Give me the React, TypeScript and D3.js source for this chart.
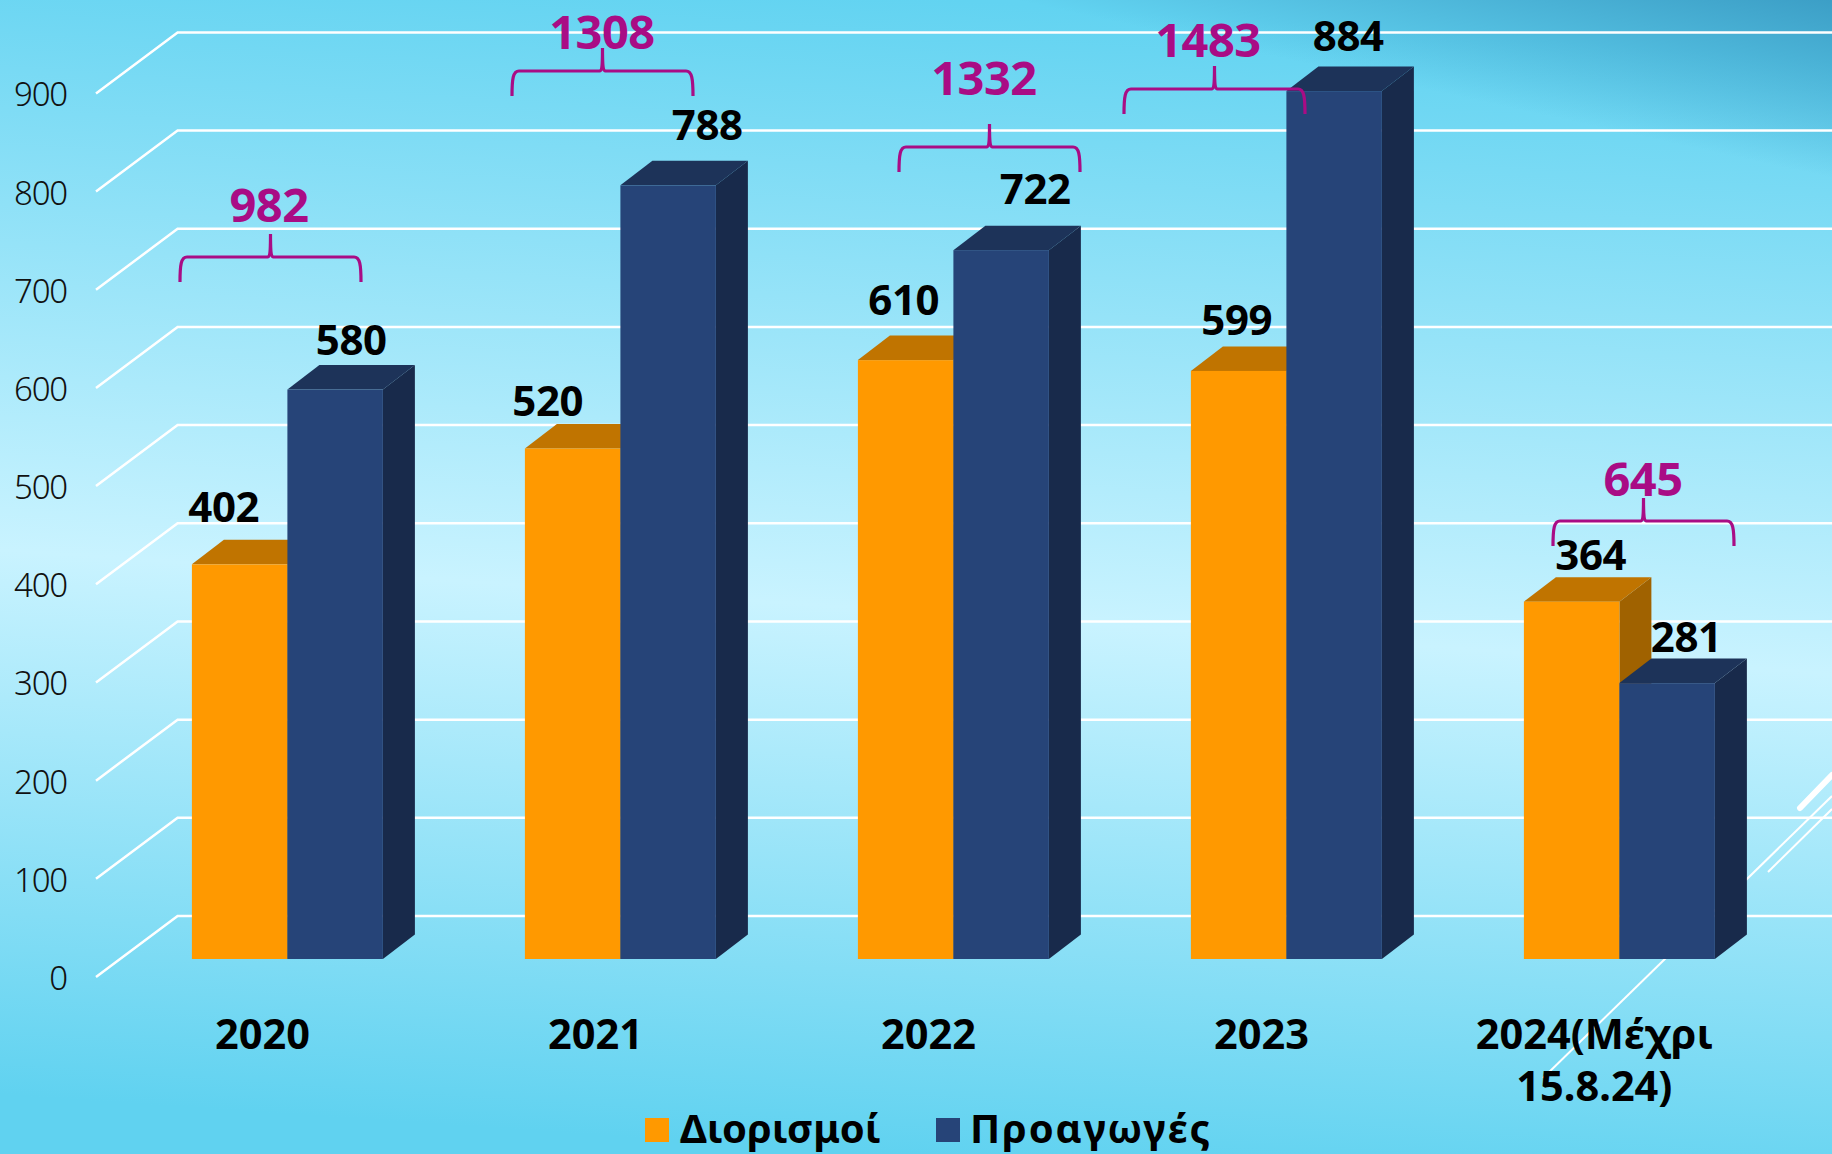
import React from "react";
import * as d3 from "d3";

const W = 1832, H = 1154;
const categories = ["2020", "2021", "2022", "2023", "2024"];
const categoryLines = [["2020"], ["2021"], ["2022"], ["2023"], ["2024(Μέχρι", "15.8.24)"]];
const seriesNames = ["Διορισμοί", "Προαγωγές"];
const diorismoi = [402, 520, 610, 599, 364];
const proagoges = [580, 788, 722, 884, 281];
const totals = [982, 1308, 1332, 1483, 645];
const ticks = [0, 100, 200, 300, 400, 500, 600, 700, 800, 900];

// layout offsets (not data)
const labelDx = [[-16, 16], [-25, 39], [-2, 34], [-2, 14], [19, 19]];
const labelDy = [[-57, -50], [-47, -60], [-60, -61], [-51, -55], [-47, -46]];
const braceX = [180, 512, 899, 1124, 1553];
const braceY = [257, 71, 147, 89, 521];
const totalPos = [[269, 205], [602, 32], [984, 78], [1208, 40], [1643, 479]];
const catDx = -25;
const BRACE_W = 181;

const y = d3.scaleLinear().domain([0, 900]).range([959, 75.4]);
const x = d3.scalePoint().domain(categories).range([287.4, 1619.4]);
const inner = d3.scaleBand().domain(seriesNames).range([-95.5, 95.5]);
const DX = 32, DY = 24.5;
const colors = [
  { front: "#ff9900", top: "#c07400", side: "#a06200" },
  { front: "#264478", top: "#1d3359", side: "#182a4b" },
];
const FONT = "'Noto Sans', 'Open Sans', sans-serif";
const poly = (p: number[][]) => (d3.line()(p as any) || "") + "Z";

function bar(cat: string, s: number, v: number) {
  const name = seriesNames[s];
  const x0 = (x(cat) as number) + (inner(name) as number);
  const x1 = x0 + inner.bandwidth();
  const t = y(v), b = y(0);
  const c = colors[s];
  return (
    <g key={cat + name}>
      <path d={poly([[x1, t], [x1 + DX, t - DY], [x1 + DX, b - DY], [x1, b]])} fill={c.side} />
      <path d={poly([[x0, t], [x0 + DX, t - DY], [x1 + DX, t - DY], [x1, t]])} fill={c.top} />
      <rect x={x0} y={t} width={x1 - x0} height={b - t} fill={c.front} />
    </g>
  );
}

function bracePath(x0: number, yy: number) {
  const x1 = x0 + BRACE_W, m = (x0 + x1) / 2;
  return `M${x0},${yy + 25} C${x0},${yy + 8} ${x0 + 1},${yy} ${x0 + 7},${yy} L${m - 3},${yy} C${m - 1},${yy} ${m},${yy - 3} ${m},${yy - 23} C${m},${yy - 3} ${m + 1},${yy} ${m + 3},${yy} L${x1 - 7},${yy} C${x1 - 1},${yy} ${x1},${yy + 8} ${x1},${yy + 25}`;
}

export default function App() {
  return (
    <svg width={W} height={H} viewBox={`0 0 ${W} ${H}`} style={{ position: "fixed", left: 0, top: 0, display: "block" }}>
      <defs>
        <linearGradient id="bg" gradientUnits="userSpaceOnUse" x1={955} y1={0} x2={877} y2={1154}>
          <stop offset="0" stopColor="#62d3f1" />
          <stop offset="0.53" stopColor="#c9f3ff" />
          <stop offset="1" stopColor="#60d2f0" />
        </linearGradient>
        <linearGradient id="corner" gradientUnits="userSpaceOnUse" x1={1832} y1={0} x2={1795} y2={170}>
          <stop offset="0" stopColor="#3a9cc4" stopOpacity={0.95} />
          <stop offset="1" stopColor="#3a9cc4" stopOpacity={0} />
        </linearGradient>
      </defs>
      <rect width={W} height={H} fill="url(#bg)" />
      <rect width={W} height={H} fill="url(#corner)" />

      <g stroke="#fff" fill="none">
        <line x1={1543} y1={1078} x2={1832} y2={796} strokeWidth={2} />
        <line x1={1768} y1={872} x2={1832} y2={809} strokeWidth={2} />
        <line x1={1800} y1={808} x2={1832} y2={775} strokeWidth={6} strokeLinecap="round" />
      </g>

      <g stroke="#fff" strokeWidth={2.5} fill="none">
        {ticks.map((t) => (
          <polyline key={t} points={`96,${y(t) + 18} 177.6,${y(t) - 43} ${W},${y(t) - 43}`} />
        ))}
      </g>
      <g fontFamily={FONT} fontWeight={300} fontSize={33} fill="#111" textAnchor="end">
        {ticks.map((t) => (
          <text key={t} x={67} y={y(t) + 18 + 13} letterSpacing={-1.2}>{t}</text>
        ))}
      </g>

      {categories.map((c, i) => (
        <g key={c}>
          {bar(c, 0, diorismoi[i])}
          {bar(c, 1, proagoges[i])}
        </g>
      ))}

      <g fontFamily={FONT} fontWeight={700} fontSize={42} fill="#000" textAnchor="middle">
        {categories.map((c, i) =>
          [diorismoi[i], proagoges[i]].map((v, s) => (
            <text key={c + s} x={(x(c) as number) + (inner(seriesNames[s]) as number) + inner.bandwidth() / 2 + labelDx[i][s]}
              y={y(v) + labelDy[i][s] + 15} letterSpacing={-0.5}>{v}</text>
          ))
        )}
      </g>

      <g fill="none" stroke="#a90c85" strokeWidth={3.2}>
        {braceX.map((bx, i) => <path key={i} d={bracePath(bx, braceY[i])} />)}
      </g>
      <g fontFamily={FONT} fontWeight={700} fontSize={47} fill="#a90c85" textAnchor="middle">
        {totals.map((t, i) => (
          <text key={i} x={totalPos[i][0]} y={totalPos[i][1] + 17} letterSpacing={-0.5}>{t}</text>
        ))}
      </g>

      <g fontFamily={FONT} fontWeight={700} fontSize={41.5} fill="#000" textAnchor="middle">
        {categories.map((c, i) =>
          categoryLines[i].map((l, j) => (
            <text key={l} x={(x(c) as number) + catDx} y={1049 + j * 52}>{l}</text>
          ))
        )}
      </g>

      <g fontFamily={FONT} fontWeight={700} fontSize={40} fill="#000">
        {seriesNames.map((n, i) => {
          const lx = [645, 936][i], tx = [680, 970][i];
          return (
            <g key={n}>
              <rect x={lx} y={1118} width={24} height={24} fill={colors[i].front} />
              <text x={tx} y={1143} letterSpacing={[0, 1.9][i]}>{n}</text>
            </g>
          );
        })}
      </g>
    </svg>
  );
}
